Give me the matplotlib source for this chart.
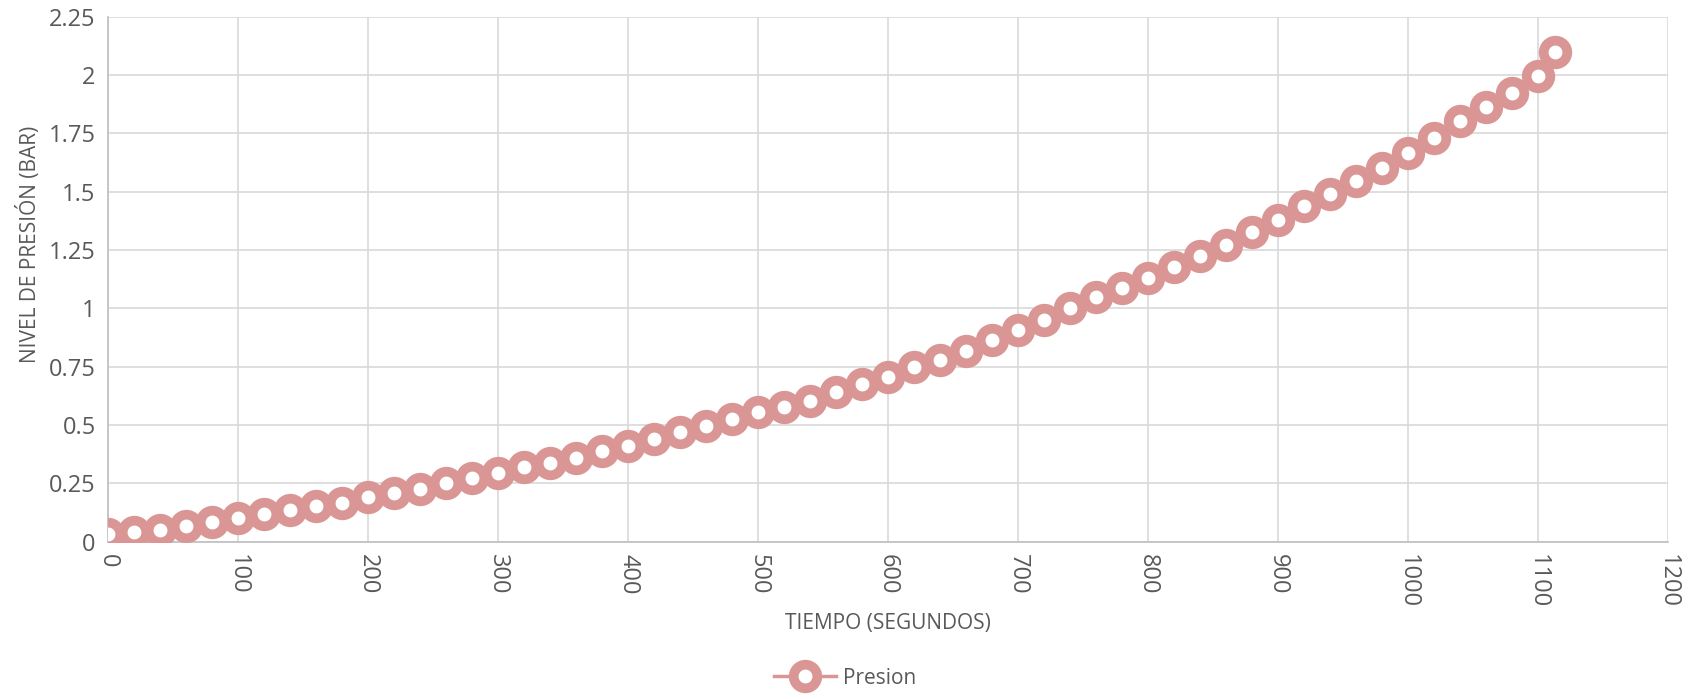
import matplotlib.pyplot as plt

plt.rcParams['font.family'] = ['Open Sans', 'DejaVu Sans']

tiempo = [0, 20, 40, 60, 80, 100, 120, 140, 160, 180,
          200, 220, 240, 260, 280, 300, 320, 340, 360, 380,
          400, 420, 440, 460, 480, 500, 520, 540, 560, 580,
          600, 620, 640, 660, 680, 700, 720, 740, 760, 780,
          800, 820, 840, 860, 880, 900, 920, 940, 960, 980,
          1000, 1020, 1040, 1060, 1080, 1100, 1113]
presion = [0.032, 0.042, 0.051, 0.069, 0.083, 0.100, 0.120, 0.134, 0.152, 0.166,
           0.190, 0.208, 0.226, 0.250, 0.273, 0.296, 0.319, 0.337, 0.360, 0.388,
           0.410, 0.440, 0.470, 0.494, 0.527, 0.555, 0.578, 0.605, 0.642, 0.675,
           0.707, 0.749, 0.781, 0.818, 0.864, 0.906, 0.952, 1.003, 1.049, 1.086,
           1.132, 1.178, 1.224, 1.271, 1.326, 1.377, 1.437, 1.492, 1.548, 1.603,
           1.668, 1.732, 1.802, 1.862, 1.922, 1.996, 2.097]

x_ticks = list(range(0, 1201, 100))
y_ticks = [0, 0.25, 0.5, 0.75, 1, 1.25, 1.5, 1.75, 2, 2.25]
y_labels = ['0', '0.25', '0.5', '0.75', '1', '1.25', '1.5', '1.75', '2', '2.25']

txt = '#595959'

fig = plt.figure(figsize=(16.9, 6.99), dpi=100)
ax = fig.add_axes([0.064, 0.225, 0.923, 0.751])

ax.plot(tiempo, presion, color='#cd6f6d', lw=2.5, linestyle=(0, (1.2, 1.2)),
        marker='o', markersize=17, markerfacecolor='white',
        markeredgecolor='#d99694', markeredgewidth=7, zorder=3)
# legend handle: solid line through a marker
ax.plot([], [], color='#d99694', lw=2.5, marker='o', markersize=17,
        markerfacecolor='white', markeredgecolor='#d99694', markeredgewidth=7,
        label='Presion')

ax.set_xlim(0, 1200)
ax.set_ylim(0, 2.25)
ax.set_xticks(x_ticks)
ax.set_xticklabels([str(t) for t in x_ticks], rotation=-90)
ax.set_yticks(y_ticks)
ax.set_yticklabels(y_labels)
ax.grid(True, color='#d9d9d9', lw=1.2)
ax.set_axisbelow(True)

for s in ['top', 'right']:
    ax.spines[s].set_visible(False)
for s in ['left', 'bottom']:
    ax.spines[s].set_color('#bfbfbf')
    ax.spines[s].set_linewidth(1.2)

ax.tick_params(length=0, labelsize=17, colors=txt, pad=9)
ax.set_xlabel('TIEMPO (SEGUNDOS)', fontsize=15, color=txt)
ax.set_ylabel('NIVEL DE PRESIÓN (BAR)', fontsize=15, color=txt)
ax.xaxis.set_label_coords(0.5, -0.135)
ax.yaxis.set_label_coords(-0.043, 0.566)

fig.legend(loc='lower center', bbox_to_anchor=(0.5, -0.012), frameon=False,
           fontsize=15, labelcolor=txt, handlelength=3, handletextpad=0.3)

fig.savefig('out.png', dpi=100)
